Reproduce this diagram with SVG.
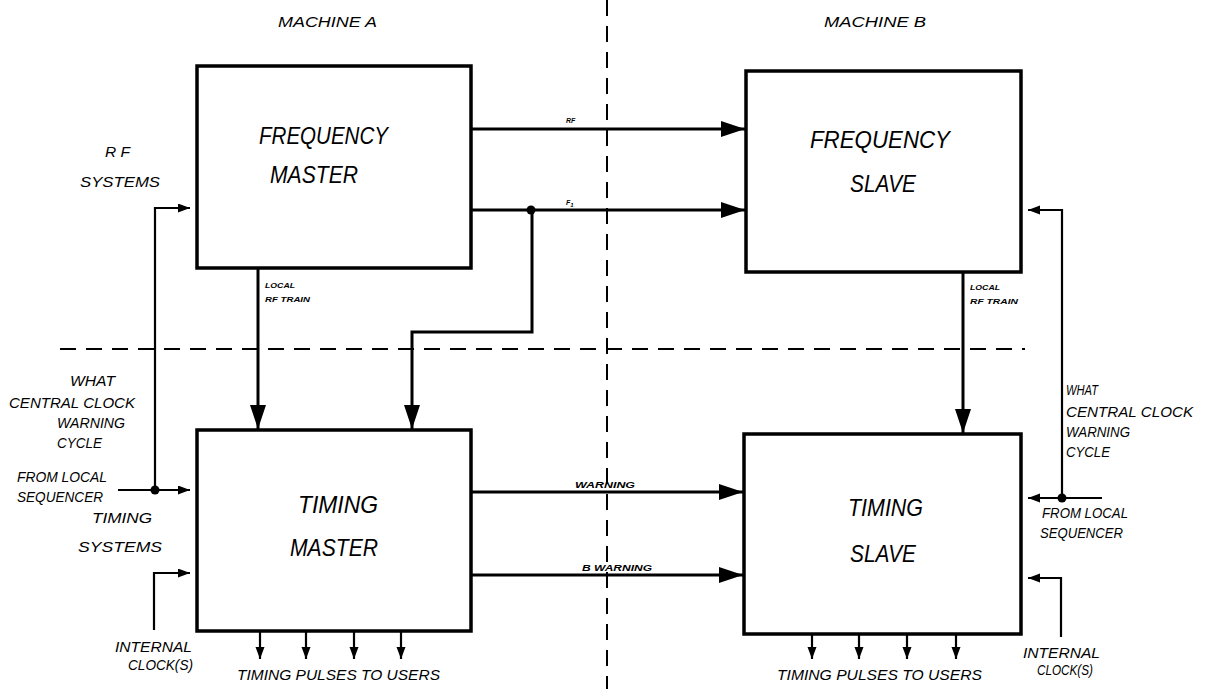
<svg xmlns="http://www.w3.org/2000/svg" width="1209" height="689" viewBox="0 0 1209 689">
<style>
.box{fill:none;stroke:#000;stroke-width:3.5}
.t{font-family:"Liberation Sans",Arial,sans-serif;font-style:italic;fill:#000}
.big{font-size:24px}
.lab{font-size:15px}
.sm{font-size:7px;font-weight:bold}
.w{stroke:#000;fill:none;stroke-width:3}
.n{stroke:#000;fill:none;stroke-width:2.2}
.d{stroke:#000;fill:none;stroke-width:2;stroke-dasharray:16 10}
</style>
<defs>
<marker id="big" markerUnits="userSpaceOnUse" markerWidth="26" markerHeight="18" refX="24" refY="8" orient="auto"><path d="M0,0 L24,8 L0,16 Z" fill="#000"/></marker>
<marker id="sm" markerUnits="userSpaceOnUse" markerWidth="14" markerHeight="10" refX="12" refY="4.5" orient="auto"><path d="M0,0 L12,4.5 L0,9 Z" fill="#000"/></marker>
</defs>
<rect width="1209" height="689" fill="#fff"/>
<g id="dividers">
<line class="d" x1="607" y1="0" x2="607" y2="689"/>
<line class="d" x1="60" y1="349" x2="1025" y2="349"/>
</g>
<g id="headers">
<text class="t lab" x="278" y="27" textLength="99" lengthAdjust="spacingAndGlyphs">MACHINE A</text>
<text class="t lab" x="824" y="27" textLength="102" lengthAdjust="spacingAndGlyphs">MACHINE B</text>
</g>
<g id="freq-master">
<rect class="box" x="197" y="66" width="274" height="202"/>
<text class="t big" x="259" y="144" textLength="129" lengthAdjust="spacingAndGlyphs">FREQUENCY</text>
<text class="t big" x="270" y="183" textLength="88" lengthAdjust="spacingAndGlyphs">MASTER</text>
</g>
<g id="freq-slave">
<rect class="box" x="746" y="71" width="275" height="201"/>
<text class="t big" x="810" y="148" textLength="140" lengthAdjust="spacingAndGlyphs">FREQUENCY</text>
<text class="t big" x="850" y="192" textLength="66" lengthAdjust="spacingAndGlyphs">SLAVE</text>
</g>
<g id="timing-master">
<rect class="box" x="197" y="430" width="274" height="201"/>
<text class="t big" x="298" y="513" textLength="80" lengthAdjust="spacingAndGlyphs">TIMING</text>
<text class="t big" x="290" y="556" textLength="88" lengthAdjust="spacingAndGlyphs">MASTER</text>
</g>
<g id="timing-slave">
<rect class="box" x="744" y="434" width="277" height="200"/>
<text class="t big" x="848" y="516" textLength="75" lengthAdjust="spacingAndGlyphs">TIMING</text>
<text class="t big" x="850" y="562" textLength="66" lengthAdjust="spacingAndGlyphs">SLAVE</text>
</g>
<g id="connectors">
<line class="w" x1="471" y1="129" x2="745" y2="129" marker-end="url(#big)"/>
<line class="w" x1="471" y1="210" x2="745" y2="210" marker-end="url(#big)"/>
<polyline class="w" points="532,210 532,332 412,332 412,429" marker-end="url(#big)"/>
<circle cx="531" cy="210" r="4.5"/>
<line class="w" x1="258" y1="268" x2="258" y2="429" marker-end="url(#big)"/>
<line class="w" x1="963" y1="272" x2="963" y2="433" marker-end="url(#big)"/>
<line class="w" x1="471" y1="492" x2="743" y2="492" marker-end="url(#big)"/>
<line class="w" x1="471" y1="575" x2="743" y2="575" marker-end="url(#big)"/>
<polyline class="n" points="155,490 155,208 190,208" marker-end="url(#sm)"/>
<line class="n" x1="118" y1="490" x2="190" y2="490" marker-end="url(#sm)"/>
<circle cx="155" cy="490" r="4.5"/>
<polyline class="n" points="154,630 154,573 190,573" marker-end="url(#sm)"/>
<polyline class="n" points="1062,498 1062,210 1028,210" marker-end="url(#sm)"/>
<line class="n" x1="1102" y1="498" x2="1028" y2="498" marker-end="url(#sm)"/>
<circle cx="1062" cy="498" r="4.5"/>
<polyline class="n" points="1061,637 1061,578 1028,578" marker-end="url(#sm)"/>
<line class="n" x1="260" y1="632" x2="260" y2="659" marker-end="url(#sm)"/>
<line class="n" x1="306" y1="632" x2="306" y2="659" marker-end="url(#sm)"/>
<line class="n" x1="354" y1="632" x2="354" y2="659" marker-end="url(#sm)"/>
<line class="n" x1="401" y1="632" x2="401" y2="659" marker-end="url(#sm)"/>
<line class="n" x1="812" y1="634" x2="812" y2="659" marker-end="url(#sm)"/>
<line class="n" x1="859" y1="634" x2="859" y2="659" marker-end="url(#sm)"/>
<line class="n" x1="907" y1="634" x2="907" y2="659" marker-end="url(#sm)"/>
<line class="n" x1="956" y1="634" x2="956" y2="659" marker-end="url(#sm)"/>
</g>
<g id="connector-labels">
<text class="t sm" x="566" y="123">RF</text>
<text class="t sm" x="566" y="205">F<tspan dy="2" font-size="6">1</tspan></text>
<text class="t sm" x="265" y="288" textLength="30" lengthAdjust="spacingAndGlyphs">LOCAL</text>
<text class="t sm" x="265" y="302" textLength="45" lengthAdjust="spacingAndGlyphs">RF TRAIN</text>
<text class="t sm" x="970" y="290" textLength="30" lengthAdjust="spacingAndGlyphs">LOCAL</text>
<text class="t sm" x="970" y="304" textLength="48" lengthAdjust="spacingAndGlyphs">RF TRAIN</text>
<text class="t" style="font-size:9px;font-weight:bold" x="575" y="488" textLength="60" lengthAdjust="spacingAndGlyphs">WARNING</text>
<text class="t" style="font-size:9px;font-weight:bold" x="582" y="571" textLength="70" lengthAdjust="spacingAndGlyphs">B WARNING</text>
</g>
<g id="left-labels">
<text class="t lab" x="105" y="157" textLength="25" lengthAdjust="spacingAndGlyphs">R F</text>
<text class="t lab" x="80" y="187" textLength="80" lengthAdjust="spacingAndGlyphs">SYSTEMS</text>
<text class="t lab" x="70" y="386" textLength="45" lengthAdjust="spacingAndGlyphs">WHAT</text>
<text class="t lab" x="9" y="408" textLength="126" lengthAdjust="spacingAndGlyphs">CENTRAL CLOCK</text>
<text class="t lab" x="57" y="428" textLength="68" lengthAdjust="spacingAndGlyphs">WARNING</text>
<text class="t lab" x="57" y="448" textLength="45" lengthAdjust="spacingAndGlyphs">CYCLE</text>
<text class="t lab" x="17" y="482" textLength="90" lengthAdjust="spacingAndGlyphs">FROM LOCAL</text>
<text class="t lab" x="17" y="502" textLength="86" lengthAdjust="spacingAndGlyphs">SEQUENCER</text>
<text class="t lab" x="92" y="523" textLength="60" lengthAdjust="spacingAndGlyphs">TIMING</text>
<text class="t lab" x="78" y="552" textLength="84" lengthAdjust="spacingAndGlyphs">SYSTEMS</text>
<text class="t lab" x="115" y="652" textLength="77" lengthAdjust="spacingAndGlyphs">INTERNAL</text>
<text class="t lab" x="128" y="670" textLength="65" lengthAdjust="spacingAndGlyphs">CLOCK(S)</text>
<text class="t lab" x="237" y="680" textLength="203" lengthAdjust="spacingAndGlyphs">TIMING PULSES TO USERS</text>
</g>
<g id="right-labels">
<text class="t lab" x="1066" y="395" textLength="32" lengthAdjust="spacingAndGlyphs">WHAT</text>
<text class="t lab" x="1066" y="417" textLength="127" lengthAdjust="spacingAndGlyphs">CENTRAL CLOCK</text>
<text class="t lab" x="1066" y="437" textLength="64" lengthAdjust="spacingAndGlyphs">WARNING</text>
<text class="t lab" x="1066" y="457" textLength="44" lengthAdjust="spacingAndGlyphs">CYCLE</text>
<text class="t lab" x="1042" y="518" textLength="86" lengthAdjust="spacingAndGlyphs">FROM LOCAL</text>
<text class="t lab" x="1040" y="538" textLength="83" lengthAdjust="spacingAndGlyphs">SEQUENCER</text>
<text class="t lab" x="1023" y="658" textLength="77" lengthAdjust="spacingAndGlyphs">INTERNAL</text>
<text class="t lab" x="1037" y="675" textLength="56" lengthAdjust="spacingAndGlyphs">CLOCK(S)</text>
<text class="t lab" x="777" y="680" textLength="205" lengthAdjust="spacingAndGlyphs">TIMING PULSES TO USERS</text>
</g>
</svg>
